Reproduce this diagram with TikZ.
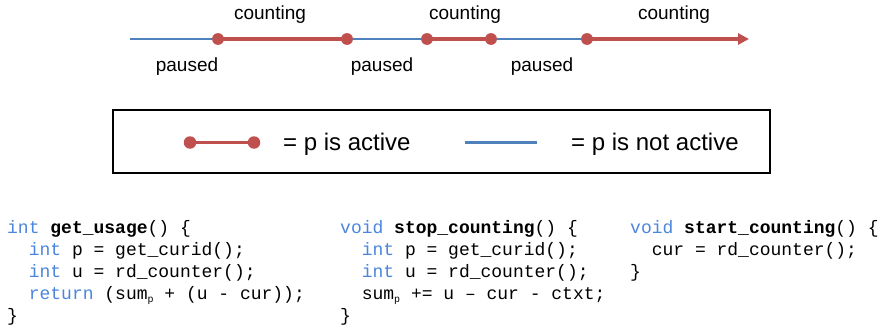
\documentclass[tikz,border=0pt]{standalone}
\usepackage{fontspec}
\setmainfont{Liberation Sans}
\newfontfamily\codefont{Liberation Mono}
\usetikzlibrary{arrows.meta}
\definecolor{actred}{RGB}{192,80,77}
\definecolor{idleblue}{RGB}{79,129,189}
\definecolor{kwblue}{RGB}{74,134,222}
\newcommand{\kw}[1]{\textcolor{kwblue}{#1}}
\newcommand{\subp}{\raisebox{-0.35ex}{\fontsize{10}{10}\selectfont p}}
\tikzset{
  lbl/.style={font=\fontsize{19}{19}\selectfont, anchor=base, inner sep=0pt},
  leg/.style={font=\fontsize{24}{24}\selectfont, anchor=base west, inner sep=0pt},
  code/.style={font=\codefont\fontsize{18}{22}\selectfont, anchor=base west, inner sep=0pt},
  dot/.style={circle, fill=actred, minimum size=11.5pt, inner sep=0pt},
  legdot/.style={dot, minimum size=12.5pt},
  active/.style={draw=actred, line width=3.5pt},
  idle/.style={draw=idleblue, line width=2.5pt},
}
\begin{document}
\begin{tikzpicture}[x=1pt,y=-1pt]
\useasboundingbox (0,0) rectangle (883,332);
% timeline
\coordinate (t0) at (130,39);
\coordinate (tend) at (749,39);
\node[dot] (d1) at (218,39) {};
\node[dot] (d2) at (347,39) {};
\node[dot] (d3) at (427,39) {};
\node[dot] (d4) at (491,39) {};
\node[dot] (d5) at (587,39) {};
\draw[idle] (t0) -- (d1.center);
\draw[active] (d1.center) -- (d2.center);
\draw[idle] (d2.center) -- (d3.center);
\draw[active] (d3.center) -- (d4.center);
\draw[idle] (d4.center) -- (d5.center);
\draw[active, -{Triangle[length=11pt,width=11pt]}] (d5.center) -- (tend);
\foreach \n in {d1,d2,d3,d4,d5} \node[dot] at (\n) {};
\node[lbl] (c1) at (270,19) {counting};
\node[lbl] (c2) at (465,19) {counting};
\node[lbl] (c3) at (674,19) {counting};
\node[lbl] (p1) at (187,71) {paused};
\node[lbl] (p2) at (382,71) {paused};
\node[lbl] (p3) at (542,71) {paused};
% legend
\node[draw=black, line width=2pt, minimum width=657pt, minimum height=63pt, inner sep=0pt] (box) at (441.5,141.5) {};
\node[legdot] (la) at (190,142.5) {};
\node[legdot] (lb) at (254,142.5) {};
\draw[draw=actred, line width=3pt] (la.center) -- (lb.center);
\node[leg] (t1) at (283,150.5) {= p is active};
\coordinate (bl1) at (465,142.5);
\coordinate (bl2) at (537,142.5);
\draw[draw=idleblue, line width=3pt] (bl1) -- (bl2);
\node[leg] (t2) at (571,150.5) {= p is not active};
% code left
\node[code] (a1) at (7,233) {\kw{int} \textbf{get\_usage}() \{};
\node[code] (a2) at (7,255) {\ \ \kw{int} p = get\_curid();};
\node[code] (a3) at (7,277) {\ \ \kw{int} u = rd\_counter();};
\node[code] (a4) at (7,299) {\ \ \kw{return} (sum\subp{} + (u - cur));};
\node[code] (a5) at (7,321) {\}};
% code middle
\node[code] (b1) at (340,233) {\kw{void} \textbf{stop\_counting}() \{};
\node[code] (b2) at (340,255) {\ \ \kw{int} p = get\_curid();};
\node[code] (b3) at (340,277) {\ \ \kw{int} u = rd\_counter();};
\node[code] (b4) at (340,299) {\ \ sum\subp{} += u \textendash{} cur - ctxt;};
\node[code] (b5) at (340,321) {\}};
% code right
\node[code] (r1) at (630,233) {\kw{void} \textbf{start\_counting}() \{};
\node[code] (r2) at (630,255) {\ \ cur = rd\_counter();};
\node[code] (r3) at (630,277) {\}};
\end{tikzpicture}
\end{document}
